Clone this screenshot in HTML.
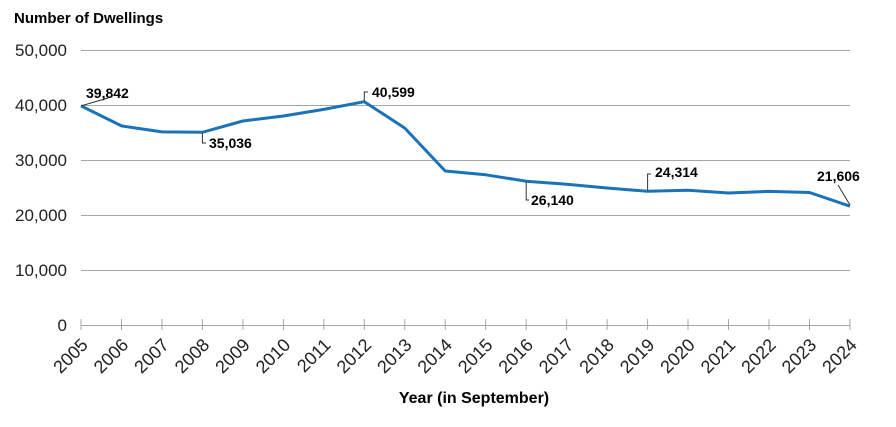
<!DOCTYPE html><html><head><style>body{margin:0;background:#fff}svg{display:block;font-family:"Liberation Sans",Arial,sans-serif}</style></head><body>
<svg width="896" height="427" xmlns="http://www.w3.org/2000/svg">
<text x="14" y="23" font-size="15" font-weight="bold">Number of Dwellings</text>
<g stroke="#a6a6a6" stroke-width="1">
<line x1="81" x2="850" y1="50.5" y2="50.5"/><line x1="81" x2="850" y1="105.5" y2="105.5"/><line x1="81" x2="850" y1="160.5" y2="160.5"/><line x1="81" x2="850" y1="215.5" y2="215.5"/><line x1="81" x2="850" y1="270.5" y2="270.5"/><line x1="81" x2="850" y1="325.5" y2="325.5"/>
</g>
<g font-size="17" text-anchor="end" fill="#222">
<text x="67" y="56">50,000</text><text x="67" y="111">40,000</text><text x="67" y="166">30,000</text><text x="67" y="221">20,000</text><text x="67" y="276">10,000</text><text x="67" y="331">0</text>
</g>
<g stroke="#a6a6a6">
<line x1="81" x2="81" y1="319" y2="330"/><line x1="121.5" x2="121.5" y1="319" y2="330"/><line x1="162" x2="162" y1="319" y2="330"/><line x1="202.4" x2="202.4" y1="319" y2="330"/><line x1="242.9" x2="242.9" y1="319" y2="330"/><line x1="283.4" x2="283.4" y1="319" y2="330"/><line x1="323.8" x2="323.8" y1="319" y2="330"/><line x1="364.3" x2="364.3" y1="319" y2="330"/><line x1="404.8" x2="404.8" y1="319" y2="330"/><line x1="445.2" x2="445.2" y1="319" y2="330"/><line x1="485.7" x2="485.7" y1="319" y2="330"/><line x1="526.2" x2="526.2" y1="319" y2="330"/><line x1="566.6" x2="566.6" y1="319" y2="330"/><line x1="607.1" x2="607.1" y1="319" y2="330"/><line x1="647.6" x2="647.6" y1="319" y2="330"/><line x1="688" x2="688" y1="319" y2="330"/><line x1="728.5" x2="728.5" y1="319" y2="330"/><line x1="769" x2="769" y1="319" y2="330"/><line x1="809.5" x2="809.5" y1="319" y2="330"/><line x1="850" x2="850" y1="319" y2="330"/>
</g>
<g font-size="18" text-anchor="end" fill="#222">
<text transform="translate(89,346) rotate(-45)">2005</text>
<text transform="translate(129.5,346) rotate(-45)">2006</text>
<text transform="translate(170,346) rotate(-45)">2007</text>
<text transform="translate(210.4,346) rotate(-45)">2008</text>
<text transform="translate(250.9,346) rotate(-45)">2009</text>
<text transform="translate(291.4,346) rotate(-45)">2010</text>
<text transform="translate(331.8,346) rotate(-45)">2011</text>
<text transform="translate(372.3,346) rotate(-45)">2012</text>
<text transform="translate(412.8,346) rotate(-45)">2013</text>
<text transform="translate(453.2,346) rotate(-45)">2014</text>
<text transform="translate(493.7,346) rotate(-45)">2015</text>
<text transform="translate(534.2,346) rotate(-45)">2016</text>
<text transform="translate(574.6,346) rotate(-45)">2017</text>
<text transform="translate(615.1,346) rotate(-45)">2018</text>
<text transform="translate(655.6,346) rotate(-45)">2019</text>
<text transform="translate(696,346) rotate(-45)">2020</text>
<text transform="translate(736.5,346) rotate(-45)">2021</text>
<text transform="translate(777,346) rotate(-45)">2022</text>
<text transform="translate(817.5,346) rotate(-45)">2023</text>
<text transform="translate(858,346) rotate(-45)">2024</text>
</g>
<polyline fill="none" stroke="#1a72b8" stroke-width="3" stroke-linejoin="round" points="81,105.9 121.5,125.9 162,131.9 202.4,132.3 242.9,121 283.4,116 323.8,109.4 364.3,101.7 404.8,128.1 445.2,171 485.7,174.8 526.2,181.2 566.6,184.2 607.1,188 647.6,191.3 688,190.3 728.5,193 769,191.4 809.5,192.5 850,206.2"/>
<g stroke="#333" fill="none" stroke-width="1">
<polyline points="81,105.9 108,98"/>
<polyline points="202.4,133 202.4,143 206,143"/>
<polyline points="364.3,101 364.3,92 368,92"/>
<polyline points="526.2,182 526.2,200 529,200"/>
<polyline points="647.6,190 647.6,174 651,174"/>
<polyline points="850,205 838,185"/>
</g>
<g font-size="14" font-weight="bold" fill="#000">
<text x="86" y="98">39,842</text><text x="209" y="148">35,036</text><text x="372" y="97">40,599</text><text x="531" y="205">26,140</text><text x="655" y="177">24,314</text><text x="817" y="181">21,606</text>
</g>
<text x="474" y="403" font-size="16" font-weight="bold" text-anchor="middle">Year (in September)</text>
</svg></body></html>
